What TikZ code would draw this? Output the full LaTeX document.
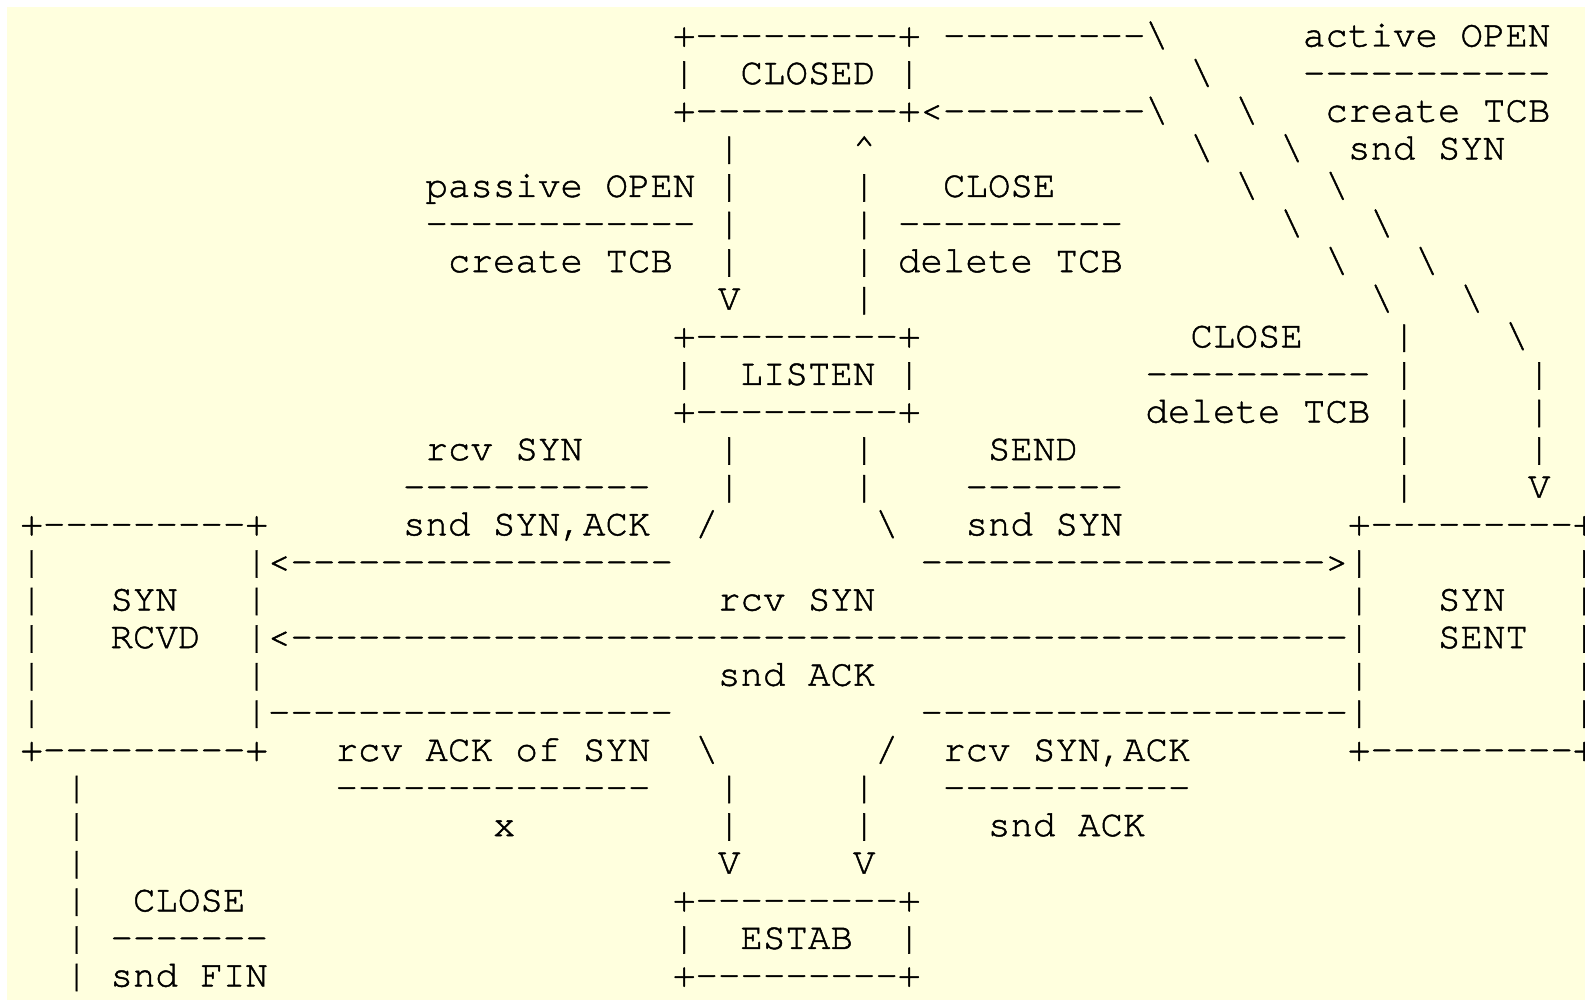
\documentclass[tikz,border=0pt]{standalone}
\usepackage{fontspec}
\setmonofont{texgyrecursor-regular.otf}[FakeBold=1.2]
\usetikzlibrary{positioning}

\definecolor{paper}{HTML}{FFFFDE}

\makeatletter
% a run of n hyphens
\newcommand\dashrun[1]{\count@=#1\relax\loop\ifnum\count@>0 -\advance\count@ by -1\repeat}
\makeatother
\newcommand\bs{\textbackslash}
\newcommand\boxrule{+\dashrun{9}+}

% one run of characters on the character grid: name, column, row, text
\newcommand\seg[4]{\node[asc] (#1) at ({-2.05+22.5*#2},{46.5+37.6*#3}) {#4};}

\begin{document}
\begin{tikzpicture}[x=0.5pt,y=-0.5pt,
  asc/.style={inner sep=0pt, outer sep=0pt, anchor=base west, text=black,
    font=\ttfamily\fontsize{18.75pt}{18.75pt}\selectfont}]
\useasboundingbox (0,0) rectangle (1585,1000);
\fill[white] (0,0) rectangle (1585,1000);
\fill[paper] (7,7) rectangle (1585,1000);

% row 0
\seg{closedTop}{30}{0}{\boxrule}
\seg{aOpenRun}{42}{0}{\dashrun{9}\bs}
\seg{activeOpen}{58}{0}{active OPEN}
% row 1
\seg{closedL}{30}{1}{|}
\seg{closed}{33}{1}{CLOSED}
\seg{closedR}{40}{1}{|}
\seg{aDiag1}{53}{1}{\bs}
\seg{activeRule}{58}{1}{\dashrun{11}}
% row 2
\seg{closedBot}{30}{2}{\boxrule<\dashrun{9}\bs}
\seg{aDiag2}{55}{2}{\bs}
\seg{activeTCB}{59}{2}{create TCB}
% row 3
\seg{pDown3}{32}{3}{|}
\seg{cUp3}{38}{3}{\textasciicircum}
\seg{cDiag3}{53}{3}{\bs}
\seg{aDiag3}{57}{3}{\bs}
\seg{activeSYN}{60}{3}{snd SYN}
% row 4
\seg{passiveOpen}{19}{4}{passive OPEN}
\seg{pDown4}{32}{4}{|}
\seg{cUp4}{38}{4}{|}
\seg{listenClose}{42}{4}{CLOSE}
\seg{cDiag4}{55}{4}{\bs}
\seg{aDiag4}{59}{4}{\bs}
% row 5
\seg{passiveRule}{19}{5}{\dashrun{12}}
\seg{pDown5}{32}{5}{|}
\seg{cUp5}{38}{5}{|}
\seg{listenCloseRule}{40}{5}{\dashrun{10}}
\seg{cDiag5}{57}{5}{\bs}
\seg{aDiag5}{61}{5}{\bs}
% row 6
\seg{passiveTCB}{20}{6}{create TCB}
\seg{pDown6}{32}{6}{|}
\seg{cUp6}{38}{6}{|}
\seg{listenDelete}{40}{6}{delete TCB}
\seg{cDiag6}{59}{6}{\bs}
\seg{aDiag6}{63}{6}{\bs}
% row 7
\seg{pDown7}{32}{7}{V}
\seg{cUp7}{38}{7}{|}
\seg{cDiag7}{61}{7}{\bs}
\seg{aDiag7}{65}{7}{\bs}
% row 8
\seg{listenTop}{30}{8}{\boxrule}
\seg{sentClose}{53}{8}{CLOSE}
\seg{cUp8}{62}{8}{|}
\seg{aDiag8}{67}{8}{\bs}
% row 9
\seg{listenL}{30}{9}{|}
\seg{listen}{33}{9}{LISTEN}
\seg{listenR}{40}{9}{|}
\seg{sentCloseRule}{51}{9}{\dashrun{10}}
\seg{cUp9}{62}{9}{|}
\seg{aDown9}{68}{9}{|}
% row 10
\seg{listenBot}{30}{10}{\boxrule}
\seg{sentDelete}{51}{10}{delete TCB}
\seg{cUp10}{62}{10}{|}
\seg{aDown10}{68}{10}{|}
% row 11
\seg{rcvSyn}{19}{11}{rcv SYN}
\seg{lDownL11}{32}{11}{|}
\seg{lDownR11}{38}{11}{|}
\seg{send}{44}{11}{SEND}
\seg{cUp11}{62}{11}{|}
\seg{aDown11}{68}{11}{|}
% row 12
\seg{rcvSynRule}{18}{12}{\dashrun{11}}
\seg{lDownL12}{32}{12}{|}
\seg{lDownR12}{38}{12}{|}
\seg{sendRule}{43}{12}{\dashrun{7}}
\seg{cUp12}{62}{12}{|}
\seg{aDown12}{68}{12}{V}
% row 13
\seg{rcvdTop}{1}{13}{\boxrule}
\seg{sndSynAck}{18}{13}{snd SYN,ACK}
\seg{lDownL13}{31}{13}{/}
\seg{lDownR13}{39}{13}{\bs}
\seg{sndSyn}{43}{13}{snd SYN}
\seg{sentTop}{60}{13}{\boxrule}
% row 14
\seg{rcvdL14}{1}{14}{|}
\seg{toRcvd}{11}{14}{|<\dashrun{17}}
\seg{toSent}{41}{14}{\dashrun{18}>|}
\seg{sentR14}{70}{14}{|}
% row 15
\seg{rcvdL15}{1}{15}{|}
\seg{rcvdA}{5}{15}{SYN}
\seg{rcvdR15}{11}{15}{|}
\seg{midRcvSyn}{32}{15}{rcv SYN}
\seg{sentL15}{60}{15}{|}
\seg{sentA}{64}{15}{SYN}
\seg{sentR15}{70}{15}{|}
% row 16
\seg{rcvdL16}{1}{16}{|}
\seg{rcvdB}{5}{16}{RCVD}
\seg{sentToRcvd}{11}{16}{|<\dashrun{47}|}
\seg{sentB}{64}{16}{SENT}
\seg{sentR16}{70}{16}{|}
% row 17
\seg{rcvdL17}{1}{17}{|}
\seg{rcvdR17}{11}{17}{|}
\seg{midSndAck}{32}{17}{snd ACK}
\seg{sentL17}{60}{17}{|}
\seg{sentR17}{70}{17}{|}
% row 18
\seg{rcvdL18}{1}{18}{|}
\seg{fromRcvd}{11}{18}{|\dashrun{18}}
\seg{fromSent}{41}{18}{\dashrun{19}|}
\seg{sentR18}{70}{18}{|}
% row 19
\seg{rcvdBot}{1}{19}{\boxrule}
\seg{rcvAckOfSyn}{15}{19}{rcv ACK of SYN}
\seg{eDownL19}{31}{19}{\bs}
\seg{eDownR19}{39}{19}{/}
\seg{rcvSynAck}{42}{19}{rcv SYN,ACK}
\seg{sentBot}{60}{19}{\boxrule}
% row 20
\seg{finDown20}{3}{20}{|}
\seg{rcvAckRule}{15}{20}{\dashrun{14}}
\seg{eDownL20}{32}{20}{|}
\seg{eDownR20}{38}{20}{|}
\seg{rcvSynAckRule}{42}{20}{\dashrun{11}}
% row 21
\seg{finDown21}{3}{21}{|}
\seg{noAction}{22}{21}{x}
\seg{eDownL21}{32}{21}{|}
\seg{eDownR21}{38}{21}{|}
\seg{sndAck}{44}{21}{snd ACK}
% row 22
\seg{finDown22}{3}{22}{|}
\seg{eDownL22}{32}{22}{V}
\seg{eDownR22}{38}{22}{V}
% row 23
\seg{finDown23}{3}{23}{|}
\seg{rcvdClose}{6}{23}{CLOSE}
\seg{estabTop}{30}{23}{\boxrule}
% row 24
\seg{finDown24}{3}{24}{|}
\seg{rcvdCloseRule}{5}{24}{\dashrun{7}}
\seg{estabL}{30}{24}{|}
\seg{estab}{33}{24}{ESTAB}
\seg{estabR}{40}{24}{|}
% row 25
\seg{finDown25}{3}{25}{|}
\seg{sndFin}{5}{25}{snd FIN}
\seg{estabBot}{30}{25}{\boxrule}
\end{tikzpicture}
\end{document}
